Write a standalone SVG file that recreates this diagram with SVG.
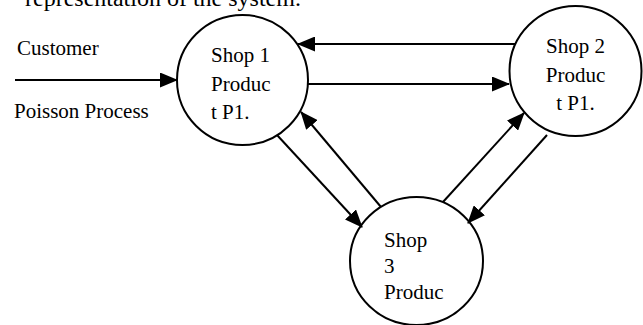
<svg xmlns="http://www.w3.org/2000/svg" width="643" height="325" viewBox="0 0 643 325">
<style>
text{font-family:"Liberation Serif","Times New Roman",serif;font-size:21px;fill:#000}
.node{fill:#fff;stroke:#000;stroke-width:2}
.conn{stroke:#000;stroke-width:2;fill:none;marker-end:url(#arr)}
</style>
<defs>
<marker id="arr" markerUnits="userSpaceOnUse" markerWidth="18" markerHeight="15" refX="17" refY="7.5" orient="auto" viewBox="0 0 18 15">
<path d="M0,0 L18,7.5 L0,15 z" fill="#000"/>
</marker>
</defs>
<rect width="643" height="325" fill="#fff"/>
<text x="25" y="6" style="font-size:24px">representation of the system.</text>
<g id="shop1">
<ellipse class="node" cx="242.5" cy="80" rx="65.5" ry="65"/>
<text x="211" y="62">Shop 1</text>
<text x="211" y="91">Produc</text>
<text x="211" y="119">t P1.</text>
</g>
<g id="shop2">
<ellipse class="node" cx="575.5" cy="71" rx="66" ry="65"/>
<text x="575.5" y="53" text-anchor="middle">Shop 2</text>
<text x="575.5" y="82" text-anchor="middle">Produc</text>
<text x="575.5" y="110" text-anchor="middle">t P1.</text>
</g>
<g id="shop3">
<ellipse class="node" cx="416.5" cy="261" rx="66.5" ry="64"/>
<text x="384" y="247">Shop</text>
<text x="384" y="273">3</text>
<text x="384" y="299">Produc</text>
</g>
<g id="customer-labels">
<text x="17" y="55">Customer</text>
<text x="14" y="118">Poisson Process</text>
</g>
<g id="connectors">
<line class="conn" x1="15" y1="80" x2="177" y2="80"/>
<line class="conn" x1="515" y1="44" x2="298" y2="44"/>
<line class="conn" x1="308" y1="84" x2="509" y2="84"/>
<line class="conn" x1="277" y1="135" x2="362" y2="227"/>
<line class="conn" x1="381" y1="207" x2="301" y2="112"/>
<line class="conn" x1="443" y1="202" x2="524" y2="113"/>
<line class="conn" x1="547" y1="135" x2="468" y2="223"/>
</g>
</svg>
